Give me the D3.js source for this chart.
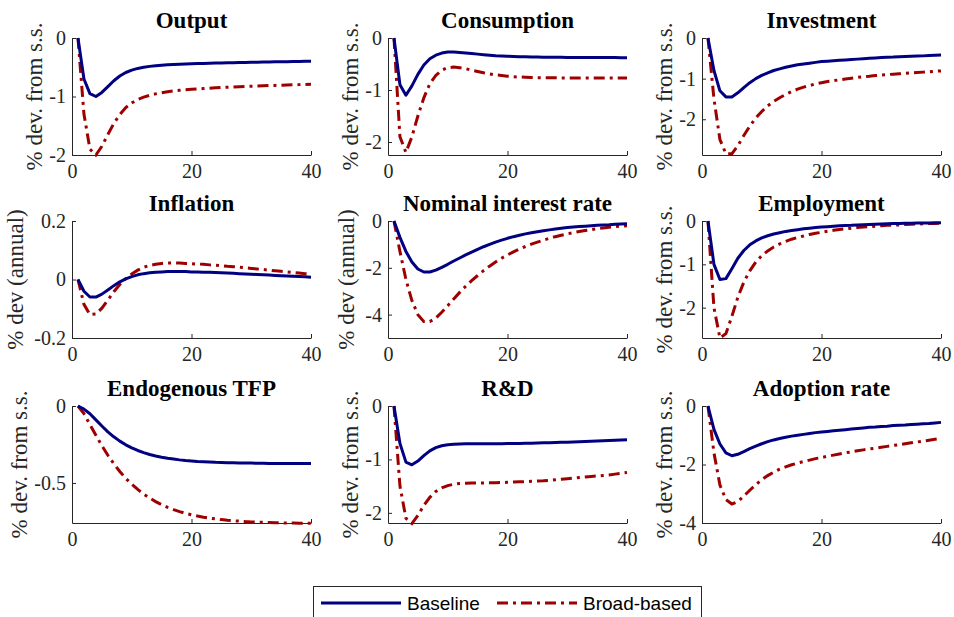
<!DOCTYPE html>
<html>
<head>
<meta charset="utf-8">
<script src="https://cdn.jsdelivr.net/npm/d3@7"></script>
<style>
  body { margin: 0; background: #fff; }
</style>
</head>
<body>
<svg></svg>
<script>
const width = 954, height = 617;

// panel titles, y labels and y axes
const titles = ["Output", "Consumption", "Investment", "Inflation", "Nominal interest rate",
    "Employment", "Endogenous TFP", "R&D", "Adoption rate"];
const yLabels = ["% dev. from s.s.", "% dev. from s.s.", "% dev. from s.s.", "% dev (annual)",
    "% dev (annual)", "% dev. from s.s.", "% dev. from s.s.", "% dev. from s.s.", "% dev. from s.s."];
const yMins = [-2, -2.25, -2.88, -0.2, -5, -2.7, -0.76, -2.19, -4];
const yMaxs = [0, 0, 0, 0.2, 0, 0, 0, 0, 0];
const yTicks = [[-2, -1, 0], [-2, -1, 0], [-2, -1, 0], [-0.2, 0, 0.2], [-4, -2, 0],
    [-2, -1, 0], [-0.5, 0], [-2, -1, 0], [-4, -2, 0]];
const xTicks = [0, 20, 40];
const seriesNames = ["Baseline", "Broad-based"];

const periods = d3.range(1, 41);

const baseOutput = [0, -0.70, -0.95, -1.00, -0.93, -0.83, -0.73, -0.65, -0.59, -0.55, -0.52, -0.50, -0.485, -0.475, -0.465, -0.458,
    -0.452, -0.447, -0.443, -0.44, -0.437, -0.434, -0.431, -0.428, -0.426, -0.424, -0.422, -0.42, -0.418, -0.416, -0.414, -0.412,
    -0.41, -0.408, -0.406, -0.404, -0.402, -0.40, -0.398, -0.396];
const broadOutput = [0, -1.30, -1.90, -2.00, -1.85, -1.65, -1.46, -1.31, -1.19, -1.11, -1.05, -1.01, -0.98, -0.955, -0.935, -0.92,
    -0.905, -0.895, -0.885, -0.877, -0.87, -0.864, -0.858, -0.852, -0.847, -0.842, -0.837, -0.833, -0.829, -0.825, -0.821, -0.817,
    -0.813, -0.81, -0.806, -0.803, -0.80, -0.797, -0.794, -0.79];

const baseCons = [0, -0.90, -1.10, -0.92, -0.70, -0.52, -0.40, -0.33, -0.29, -0.27, -0.27, -0.28, -0.29, -0.30, -0.31, -0.32,
    -0.33, -0.34, -0.345, -0.35, -0.355, -0.36, -0.362, -0.365, -0.367, -0.369, -0.37, -0.371, -0.372, -0.373, -0.374, -0.375,
    -0.375, -0.376, -0.376, -0.377, -0.377, -0.377, -0.378, -0.378];
const broadCons = [0, -1.90, -2.20, -1.90, -1.50, -1.15, -0.88, -0.72, -0.62, -0.57, -0.56, -0.57, -0.59, -0.62, -0.645, -0.67,
    -0.69, -0.71, -0.72, -0.735, -0.745, -0.75, -0.755, -0.76, -0.762, -0.764, -0.765, -0.766, -0.767, -0.767, -0.768, -0.768,
    -0.768, -0.768, -0.768, -0.768, -0.768, -0.768, -0.768, -0.768];

const baseInv = [0, -0.80, -1.30, -1.45, -1.45, -1.35, -1.22, -1.10, -1.00, -0.92, -0.86, -0.80, -0.76, -0.72, -0.69, -0.66,
    -0.64, -0.62, -0.60, -0.58, -0.57, -0.56, -0.55, -0.54, -0.53, -0.52, -0.51, -0.50, -0.49, -0.48, -0.475, -0.47,
    -0.46, -0.455, -0.45, -0.445, -0.44, -0.43, -0.425, -0.42];
const broadInv = [0, -1.50, -2.50, -2.85, -2.85, -2.65, -2.40, -2.17, -1.97, -1.81, -1.67, -1.56, -1.47, -1.39, -1.32, -1.26,
    -1.21, -1.17, -1.13, -1.10, -1.07, -1.05, -1.03, -1.01, -0.99, -0.97, -0.95, -0.94, -0.925, -0.91, -0.90, -0.89,
    -0.88, -0.87, -0.86, -0.85, -0.84, -0.83, -0.82, -0.81];

const baseInfl = [0, -0.040, -0.060, -0.060, -0.050, -0.036, -0.021, -0.008, 0.002, 0.010, 0.016, 0.020, 0.023, 0.025, 0.026, 0.027,
    0.027, 0.027, 0.027, 0.026, 0.026, 0.025, 0.025, 0.024, 0.023, 0.022, 0.021, 0.020, 0.019, 0.018, 0.017, 0.016,
    0.015, 0.014, 0.013, 0.012, 0.011, 0.010, 0.009, 0.008];
const broadInfl = [0, -0.085, -0.120, -0.118, -0.098, -0.070, -0.042, -0.017, 0.003, 0.019, 0.032, 0.042, 0.048, 0.052, 0.055, 0.056,
    0.056, 0.056, 0.055, 0.054, 0.053, 0.052, 0.050, 0.049, 0.047, 0.045, 0.044, 0.042, 0.040, 0.038, 0.036, 0.034,
    0.032, 0.030, 0.028, 0.026, 0.024, 0.022, 0.020, 0.018];

const baseRate = [0, -0.70, -1.30, -1.75, -2.05, -2.18, -2.18, -2.10, -1.98, -1.85, -1.71, -1.58, -1.45, -1.33, -1.21, -1.10,
    -1.00, -0.90, -0.82, -0.74, -0.67, -0.61, -0.55, -0.50, -0.46, -0.42, -0.38, -0.34, -0.31, -0.28, -0.26, -0.24,
    -0.22, -0.20, -0.18, -0.17, -0.16, -0.14, -0.13, -0.12];
const broadRate = [0, -1.30, -2.50, -3.40, -4.00, -4.30, -4.30, -4.15, -3.90, -3.62, -3.33, -3.05, -2.79, -2.55, -2.33, -2.12,
    -1.93, -1.75, -1.59, -1.45, -1.32, -1.20, -1.09, -0.99, -0.90, -0.82, -0.74, -0.67, -0.61, -0.55, -0.50, -0.45,
    -0.41, -0.37, -0.33, -0.30, -0.27, -0.24, -0.22, -0.20];

const baseEmp = [0, -1.00, -1.35, -1.33, -1.10, -0.86, -0.68, -0.55, -0.46, -0.39, -0.34, -0.30, -0.27, -0.24, -0.22, -0.20,
    -0.18, -0.165, -0.15, -0.14, -0.13, -0.12, -0.11, -0.105, -0.10, -0.09, -0.085, -0.08, -0.075, -0.07, -0.065, -0.06,
    -0.057, -0.054, -0.051, -0.048, -0.046, -0.044, -0.042, -0.04];
const broadEmp = [0, -2.00, -2.70, -2.60, -2.20, -1.76, -1.41, -1.15, -0.95, -0.80, -0.69, -0.60, -0.53, -0.47, -0.42, -0.38,
    -0.345, -0.31, -0.285, -0.26, -0.235, -0.215, -0.195, -0.18, -0.165, -0.15, -0.14, -0.13, -0.12, -0.11, -0.10, -0.095,
    -0.09, -0.08, -0.075, -0.07, -0.065, -0.06, -0.055, -0.05];

const baseTfp = [0, -0.020, -0.050, -0.090, -0.130, -0.168, -0.200, -0.228, -0.252, -0.272, -0.289, -0.303, -0.315, -0.325, -0.333, -0.340,
    -0.345, -0.350, -0.354, -0.357, -0.360, -0.362, -0.364, -0.366, -0.367, -0.368, -0.369, -0.370, -0.371, -0.371, -0.372, -0.372,
    -0.373, -0.373, -0.373, -0.374, -0.374, -0.374, -0.374, -0.374];
const broadTfp = [0, -0.050, -0.120, -0.190, -0.258, -0.320, -0.375, -0.425, -0.470, -0.508, -0.542, -0.572, -0.598, -0.621, -0.641, -0.658,
    -0.673, -0.686, -0.697, -0.707, -0.715, -0.722, -0.728, -0.733, -0.738, -0.742, -0.745, -0.748, -0.751, -0.753, -0.755, -0.756,
    -0.757, -0.758, -0.759, -0.760, -0.760, -0.761, -0.761, -0.761];

const baseRd = [0, -0.70, -1.05, -1.10, -1.03, -0.93, -0.84, -0.78, -0.745, -0.725, -0.715, -0.71, -0.708, -0.707, -0.707, -0.707,
    -0.707, -0.706, -0.705, -0.704, -0.702, -0.70, -0.698, -0.696, -0.693, -0.69, -0.687, -0.684, -0.68, -0.677, -0.673, -0.669,
    -0.665, -0.66, -0.655, -0.65, -0.645, -0.64, -0.635, -0.63];
const broadRd = [0, -1.50, -2.10, -2.20, -2.05, -1.86, -1.71, -1.60, -1.53, -1.49, -1.465, -1.45, -1.445, -1.44, -1.44, -1.44,
    -1.438, -1.435, -1.432, -1.428, -1.424, -1.42, -1.415, -1.41, -1.405, -1.40, -1.39, -1.38, -1.37, -1.36, -1.35, -1.34,
    -1.33, -1.32, -1.31, -1.30, -1.29, -1.275, -1.26, -1.245];

const baseAdopt = [0, -0.80, -1.30, -1.60, -1.70, -1.65, -1.56, -1.46, -1.37, -1.29, -1.22, -1.16, -1.11, -1.07, -1.03, -1.00,
    -0.97, -0.94, -0.91, -0.89, -0.87, -0.85, -0.83, -0.81, -0.79, -0.77, -0.75, -0.73, -0.72, -0.70, -0.69, -0.67,
    -0.66, -0.65, -0.63, -0.62, -0.61, -0.60, -0.58, -0.56];
const broadAdopt = [0, -1.60, -2.70, -3.20, -3.35, -3.27, -3.08, -2.88, -2.69, -2.52, -2.38, -2.26, -2.16, -2.08, -2.01, -1.95,
    -1.90, -1.85, -1.80, -1.76, -1.72, -1.68, -1.64, -1.60, -1.57, -1.53, -1.50, -1.47, -1.44, -1.41, -1.38, -1.35,
    -1.32, -1.29, -1.26, -1.23, -1.20, -1.17, -1.14, -1.11];

const baselines = [baseOutput, baseCons, baseInv, baseInfl, baseRate, baseEmp, baseTfp, baseRd, baseAdopt];
const broads = [broadOutput, broadCons, broadInv, broadInfl, broadRate, broadEmp, broadTfp, broadRd, broadAdopt];

// layout
const colLeft = [72, 388, 702], axW = 239;
const rowTop = [38, 221, 406], axH = 117;
const axisColor = "#262626";
const blue = "#000080", red = "#9e0000";
const serif = "'Liberation Serif', 'Times New Roman', serif";

const svg = d3.select("svg")
    .attr("width", width)
    .attr("height", height);

titles.forEach((title, i) => {
    const left = colLeft[i % 3], top = rowTop[Math.floor(i / 3)];
    const x = d3.scaleLinear().domain([0, 40]).range([left, left + axW]);
    const y = d3.scaleLinear().domain([yMins[i], yMaxs[i]]).range([top + axH, top]);

    const g = svg.append("g");

    const xAxis = g.append("g")
        .attr("transform", `translate(0,${top + axH})`)
        .call(d3.axisBottom(x).tickValues(xTicks).tickSizeInner(-4).tickSizeOuter(0).tickPadding(9)
            .tickFormat(d => String(d)));
    const yAxis = g.append("g")
        .attr("transform", `translate(${left},0)`)
        .call(d3.axisLeft(y).tickValues(yTicks[i]).tickSizeInner(-4).tickSizeOuter(0).tickPadding(6)
            .tickFormat(d => String(d)));

    [xAxis, yAxis].forEach(a => {
        a.select(".domain").attr("stroke", axisColor);
        a.selectAll(".tick line").attr("stroke", axisColor);
        a.selectAll(".tick text")
            .attr("fill", axisColor)
            .style("font-family", serif)
            .style("font-size", "20px");
    });

    const line = d3.line()
        .x((d, k) => x(periods[k]))
        .y(d => y(d));

    g.append("path")
        .datum(broads[i])
        .attr("d", line)
        .attr("fill", "none")
        .attr("stroke", red)
        .attr("stroke-width", 3)
        .attr("stroke-dasharray", "11,5,3,5");

    g.append("path")
        .datum(baselines[i])
        .attr("d", line)
        .attr("fill", "none")
        .attr("stroke", blue)
        .attr("stroke-width", 3)
        .attr("stroke-linejoin", "round");

    g.append("text")
        .attr("x", left + axW / 2)
        .attr("y", top - 10)
        .attr("text-anchor", "middle")
        .style("font-family", serif)
        .style("font-weight", "bold")
        .style("font-size", "23px")
        .attr("fill", "#000")
        .text(title);

    // y label sits just left of the widest tick label
    let tickLeft = left;
    yAxis.selectAll(".tick text").each(function() {
        tickLeft = Math.min(tickLeft, left + this.getBBox().x);
    });
    const labelX = tickLeft - 7 - (yLabels[i].includes("(") ? 4 : 0);

    g.append("text")
        .attr("transform", `translate(${labelX},${top + axH / 2}) rotate(-90)`)
        .attr("text-anchor", "middle")
        .style("font-family", serif)
        .style("font-size", "23px")
        .attr("fill", axisColor)
        .text(yLabels[i]);
});

// legend
const legend = svg.append("g");
legend.append("rect")
    .attr("x", 313.5).attr("y", 586.5)
    .attr("width", 388).attr("height", 40)
    .attr("fill", "#fff")
    .attr("stroke", axisColor)
    .attr("stroke-width", 1);

const legendItems = [
    { name: seriesNames[0], x1: 321, x2: 401, color: blue, dash: null },
    { name: seriesNames[1], x1: 497, x2: 577, color: red, dash: "11,5,3,5" }
];
legendItems.forEach(it => {
    legend.append("line")
        .attr("x1", it.x1).attr("x2", it.x2)
        .attr("y1", 603).attr("y2", 603)
        .attr("stroke", it.color)
        .attr("stroke-width", 3)
        .attr("stroke-dasharray", it.dash);
    legend.append("text")
        .attr("x", it.x2 + 6)
        .attr("y", 610)
        .style("font-family", "'Liberation Sans', Arial, sans-serif")
        .style("font-size", "19px")
        .attr("fill", "#000")
        .text(it.name);
});
</script>
</body>
</html>
